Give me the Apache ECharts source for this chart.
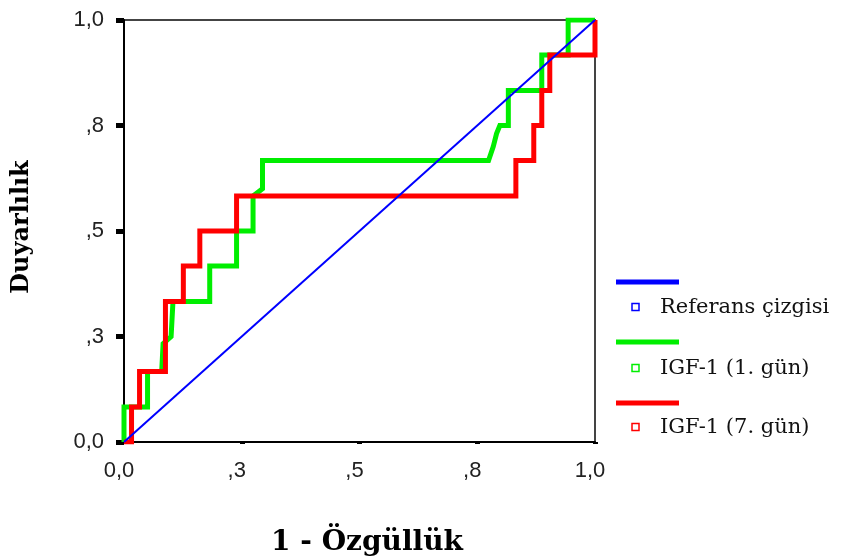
<!DOCTYPE html>
<html>
<head>
<meta charset="utf-8">
<script src="https://cdn.jsdelivr.net/npm/echarts@6/dist/echarts.min.js"></script>
<style>
html,body{margin:0;padding:0;background:#fff;}
#chart{width:841px;height:559px;}
</style>
</head>
<body>
<div id="chart"></div>
<script>
// ---- Data ----
var tickValues = [0, 0.25, 0.5, 0.75, 1];
var tickLabels = ["0,0", ",3", ",5", ",8", "1,0"];

var seriesNames = ["Referans çizgisi", "IGF-1 (1. gün)", "IGF-1 (7. gün)"];
var seriesColors = ["#0000ff", "#00ee00", "#ff0000"];

// Reference diagonal
var refLine = [[0, 0], [1, 1]];

// IGF-1 (1. gün) ROC points [1 - specificity, sensitivity]
var igf1Day1 = [
  [0, 0], [0, 0.083], [0.05, 0.083], [0.05, 0.167], [0.08, 0.167],
  [0.083, 0.233], [0.10, 0.25], [0.104, 0.333], [0.182, 0.333],
  [0.182, 0.417], [0.239, 0.417], [0.239, 0.5], [0.274, 0.5],
  [0.274, 0.583], [0.294, 0.6], [0.294, 0.667], [0.774, 0.667],
  [0.784, 0.70], [0.791, 0.731], [0.798, 0.75], [0.816, 0.75],
  [0.816, 0.833], [0.887, 0.833], [0.887, 0.917], [0.943, 0.917],
  [0.943, 1], [1, 1]
];

// IGF-1 (7. gün) ROC points
var igf1Day7 = [
  [0, 0], [0.016, 0], [0.016, 0.083], [0.033, 0.083], [0.033, 0.167],
  [0.088, 0.167], [0.088, 0.333], [0.126, 0.333], [0.126, 0.417],
  [0.161, 0.417], [0.161, 0.5], [0.239, 0.5], [0.239, 0.583],
  [0.832, 0.583], [0.832, 0.667], [0.870, 0.667], [0.870, 0.75],
  [0.887, 0.75], [0.887, 0.833], [0.904, 0.833], [0.904, 0.917],
  [1, 0.917], [1, 1]
];

var xTitle = "1 - Özgüllük";
var yTitle = "Duyarlılık";

function fmt(v) {
  for (var i = 0; i < tickValues.length; i++) {
    if (Math.abs(tickValues[i] - v) < 1e-6) return tickLabels[i];
  }
  return "";
}

var chart = echarts.init(document.getElementById('chart'), null, {renderer: 'canvas'});

var legendItems = [];
var legendY = [282, 342, 403];
var markerY = [307, 368, 427];
for (var i = 0; i < seriesNames.length; i++) {
  legendItems.push({
    type: 'line',
    shape: {x1: 616, y1: legendY[i], x2: 679, y2: legendY[i]},
    style: {stroke: seriesColors[i], lineWidth: 5}
  });
  legendItems.push({
    type: 'rect',
    shape: {x: 632, y: markerY[i] - 3.5, width: 7, height: 7},
    style: {fill: '#fff', stroke: seriesColors[i], lineWidth: 1.5}
  });
  legendItems.push({
    type: 'text',
    x: 660, y: markerY[i] + 1,
    style: {
      text: seriesNames[i],
      font: '21px "DejaVu Serif"',
      fill: '#111',
      verticalAlign: 'middle'
    }
  });
}

legendItems.push({
  type: 'text',
  x: 22, y: 227,
  rotation: Math.PI / 2,
  style: {
    text: yTitle,
    font: 'bold 24px "DejaVu Serif"',
    fill: '#000',
    align: 'center',
    verticalAlign: 'middle'
  }
});
legendItems.push({
  type: 'text',
  x: 367, y: 543,
  style: {
    text: xTitle,
    font: 'bold 28px "DejaVu Serif"',
    fill: '#000',
    align: 'center',
    verticalAlign: 'middle'
  }
});

var option = {
  backgroundColor: '#ffffff',
  animation: false,
  grid: {
    left: 124, right: 246, top: 20, bottom: 117,
    show: true, borderColor: '#444', borderWidth: 2, backgroundColor: 'transparent'
  },
  xAxis: [{
    type: 'value', min: 0, max: 1, interval: 0.25,
    axisLine: {show: true, onZero: false, lineStyle: {color: '#000', width: 2}},
    axisTick: {show: false},
    splitLine: {show: false},
    axisLabel: {
      formatter: fmt, margin: 18, color: '#222',
      fontFamily: 'Liberation Sans', fontSize: 22,
      padding: [0, 10, 0, 0]
    }
  }, {
    type: 'value', min: 0, max: 1, interval: 0.25, position: 'bottom', offset: 5,
    axisLine: {show: false},
    axisTick: {show: true, length: 2, lineStyle: {color: '#000', width: 5}},
    axisLabel: {show: false},
    splitLine: {show: false}
  }],
  yAxis: {
    type: 'value', min: 0, max: 1, interval: 0.25,
    axisLine: {show: true, onZero: false, lineStyle: {color: '#000', width: 2}},
    axisTick: {show: true, length: 8, lineStyle: {color: '#000', width: 5}},
    splitLine: {show: false},
    axisLabel: {
      formatter: fmt, margin: 20, color: '#222',
      fontFamily: 'Liberation Sans', fontSize: 22
    }
  },
  series: [{
    name: seriesNames[1], type: 'line', data: igf1Day1, xAxisIndex: 0,
    showSymbol: false, symbol: 'none', z: 2,
    lineStyle: {color: seriesColors[1], width: 5, join: 'miter'}
  }, {
    name: seriesNames[2], type: 'line', data: igf1Day7, xAxisIndex: 0,
    showSymbol: false, symbol: 'none', z: 3,
    lineStyle: {color: seriesColors[2], width: 5, join: 'miter'}
  }, {
    name: seriesNames[0], type: 'line', data: refLine, xAxisIndex: 0,
    showSymbol: false, symbol: 'none', z: 4,
    lineStyle: {color: seriesColors[0], width: 2}
  }],
  graphic: legendItems
};
chart.setOption(option);
</script>
</body>
</html>
